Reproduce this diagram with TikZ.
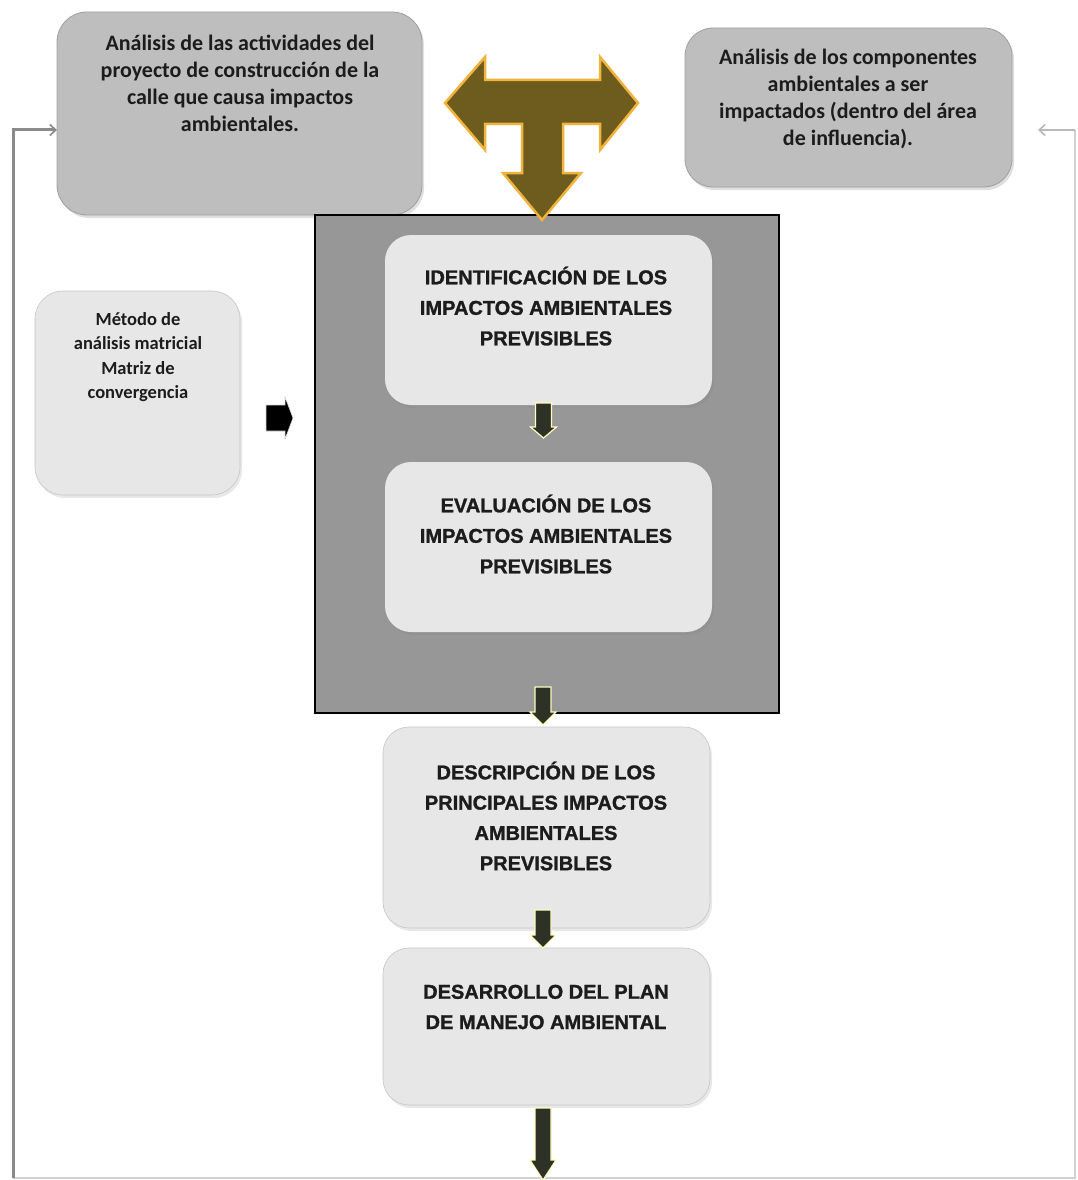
\documentclass[tikz,border=0pt]{standalone}
\usepackage{fontspec}
\setmainfont{Carlito}
\newfontfamily\arialf[FakeBold=1.3]{Liberation Sans}
\usetikzlibrary{calc,shadows,arrows.meta}
\definecolor{topgray}{HTML}{BEBEBE}
\definecolor{lightbox}{HTML}{E7E7E7}
\definecolor{biggray}{HTML}{979797}
\definecolor{olivearrow}{HTML}{6D5C1E}
\definecolor{glow}{HTML}{F2B33D}
\definecolor{darkarrow}{HTML}{2E3226}
\definecolor{looplin}{HTML}{8A8A8A}
\definecolor{txt}{HTML}{1C1C1C}
\tikzset{
  topbox/.style={rounded corners=30pt, fill=topgray, draw=gray!75, line width=0.8pt, inner sep=0pt, outer sep=0pt,
     drop shadow={opacity=0.25, shadow xshift=2pt, shadow yshift=-3pt}},
  litebox/.style={rounded corners=26pt, fill=lightbox, draw=gray!45, line width=0.6pt, inner sep=0pt, outer sep=0pt,
     drop shadow={opacity=0.18, shadow xshift=2pt, shadow yshift=-3pt}},
  toptext/.style={align=center, text=txt, font=\bfseries\fontsize{22}{27}\selectfont},
  methtext/.style={align=center, text=txt, font=\bfseries\fontsize{18.5}{24.5}\selectfont},
  captext/.style={align=center, text=txt, font=\arialf\bfseries\fontsize{20}{30.5}\selectfont},
  smallarrow/.style={fill=darkarrow, draw=yellow!25, line width=1.2pt},
  loopline/.style={draw=looplin, line width=3pt},
  looplight/.style={draw=gray!35, line width=1.8pt},
  looptip/.style={-{Straight Barb[length=6pt,width=11pt,line width=1.6pt]}}
}
\newcommand{\blockdown}[3]{%
  \filldraw[smallarrow] (#1) ++(-8,0) -- ++(16,0) -- ++(0,#2) -- ++(5,0) -- ++(-13,#3) -- ++(-13,-#3) -- ++(5,0) -- cycle;}
\begin{document}
\begin{tikzpicture}[x=1pt,y=-1pt]
\useasboundingbox[fill=white] (0,0) rectangle (1077,1180);

% feedback loop lines
\coordinate (loopbl) at (13,1178);
\coordinate (loopbr) at (1075,1178);
\coordinate (loopl) at (13,130);
\coordinate (loopr) at (1075,130);
\coordinate (rtip) at (1038,130);
\draw[looplight] (loopbl) -- (loopbr) -- (loopr);

% top boxes
\node[topbox, minimum width=365pt, minimum height=203pt] (tl) at (239.5,113.5) {};
\node[toptext] (tlt) at (240,83.5) {Análisis de las actividades del\\proyecto de construcción de la\\calle que causa impactos\\ambientales.};
\node[topbox, rounded corners=28pt, minimum width=327pt, minimum height=159pt] (tr) at (848.5,107.5) {};
\node[toptext] (trt) at (848,99) {Análisis de los componentes\\ambientales a ser\\impactados (dentro del área\\de influencia).};

\draw[loopline, looptip] (loopbl) -- (loopl) -- (loopl -| tl.west);
\draw[looplight, looptip, draw=gray!55] (loopr) -- (rtip);

% big gray frame
\node[fill=biggray, draw=black, line width=1.5pt, minimum width=464pt, minimum height=498pt, inner sep=0pt, outer sep=0pt] (big) at (547,464) {};

% T arrow
\filldraw[fill=olivearrow, draw=glow, line width=2.5pt, line join=miter]
  (445,103) -- (485,57) -- (485,80) -- (600,80) -- (600,57) -- (638,103) -- (600,150) -- (600,124)
  -- (563,124) -- (563,173) -- (581,173) -- (542,220) -- (503,173) -- (522,173) -- (522,124)
  -- (485,124) -- (485,150) -- cycle;

% inner boxes
\node[litebox, draw=none, minimum width=327pt, minimum height=170pt] (id) at (548.5,320) {};
\node[captext] (idt) at (546,306) {IDENTIFICACIÓN DE LOS\\IMPACTOS AMBIENTALES\\PREVISIBLES};
\node[litebox, draw=none, minimum width=327pt, minimum height=170pt] (ev) at (548.5,547) {};
\node[captext] (evt) at (546,534) {EVALUACIÓN DE LOS\\IMPACTOS AMBIENTALES\\PREVISIBLES};

\node[litebox, minimum width=327pt, minimum height=201pt] (desc) at (546.5,827.5) {};
\node[captext, font=\arialf\bfseries\fontsize{20}{30.3}\selectfont] (desct) at (546,816) {DESCRIPCIÓN DE LOS\\PRINCIPALES IMPACTOS\\AMBIENTALES\\PREVISIBLES};
\node[litebox, minimum width=327pt, minimum height=157pt] (des) at (546.5,1026.5) {};
\node[captext, font=\arialf\bfseries\fontsize{20}{30.3}\selectfont] (dest) at (546,1007) {DESARROLLO DEL PLAN\\DE MANEJO AMBIENTAL};

% method box
\node[litebox, rounded corners=28pt, minimum width=205pt, minimum height=204pt] (meth) at (137.5,393) {};
\node[methtext] (metht) at (138,357) {Método de\\análisis matricial\\Matriz de\\convergencia};
\filldraw[fill=black, draw=gray!30, line width=0.6pt]
  (266,405) -- (285,405) -- (285,397) -- (293,418) -- (285,439) -- (285,431) -- (266,431) -- cycle;

% small down arrows
\blockdown{$(id.south)+(-5,-2)$}{24}{11}
\blockdown{$(big.south)+(-4,-26)$}{25}{13}
\blockdown{$(desc.south)+(-3.5,-18)$}{25}{13}
\blockdown{$(des.south)+(-3.5,3)$}{52}{20}
\end{tikzpicture}
\end{document}
